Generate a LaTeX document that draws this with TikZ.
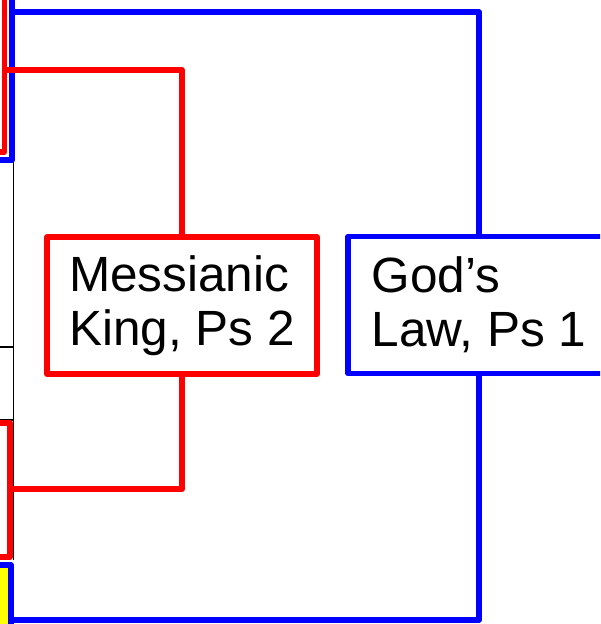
\documentclass[tikz,border=0pt]{standalone}
\usepackage{fontspec}
\setmainfont{Liberation Sans}
\definecolor{pblue}{RGB}{0,0,255}
\definecolor{pred}{RGB}{255,0,0}
\definecolor{pyellow}{RGB}{255,255,0}
\begin{document}
\begin{tikzpicture}[x=1pt,y=-1pt, line join=round,
  redline/.style={draw=pred,line width=5.5pt},
  blueline/.style={draw=pblue,line width=5.5pt},
  blackline/.style={draw=black,line width=1.5pt},
  lbl/.style={rectangle, align=left, font=\fontsize{49.5}{54}\selectfont,
    inner sep=0pt, line width=5.5pt, minimum height=137pt},
]
\useasboundingbox (0,0) rectangle (600,624);
\clip (0,0) rectangle (600,624);
% black partial box on the left edge
\draw[blackline] (13.5,160) -- (13.5,560);
\draw[blackline] (-5,347) -- (13.5,347);
\draw[blackline] (-5,420) -- (13.5,420);
% nodes
\node[lbl, draw=pred, minimum width=270pt] (mk) at (182,305.5) {Messianic\\King, Ps 2};
\node[lbl, draw=pblue, minimum width=262pt] (gl) at (479,305) {God’s\\Law, Ps 1};
% off-canvas boxes at the left edge
\fill[pyellow] (-5,565) rectangle (11,640);
\draw[blueline] (-5,565) -- (11,565) -- (11,640);
\draw[blueline] (12,-10) -- (12,160) -- (-10,160);
\draw[redline] (4.5,-10) -- (4.5,152) -- (-10,152);
\draw[redline] (-10,423) -- (10,423) -- (10,557) -- (-10,557);
% connector endpoints
\coordinate (tlB) at (12,12);
\coordinate (blB) at (11,620);
\coordinate (tlR) at (4.5,70);
\coordinate (blR) at (10,489);
% connectors
\draw[blueline] (gl.north) |- (tlB);
\draw[blueline] (gl.south) |- (blB);
\draw[redline] (mk.north) |- (tlR);
\draw[redline] (mk.south) |- (blR);
\end{tikzpicture}
\end{document}
